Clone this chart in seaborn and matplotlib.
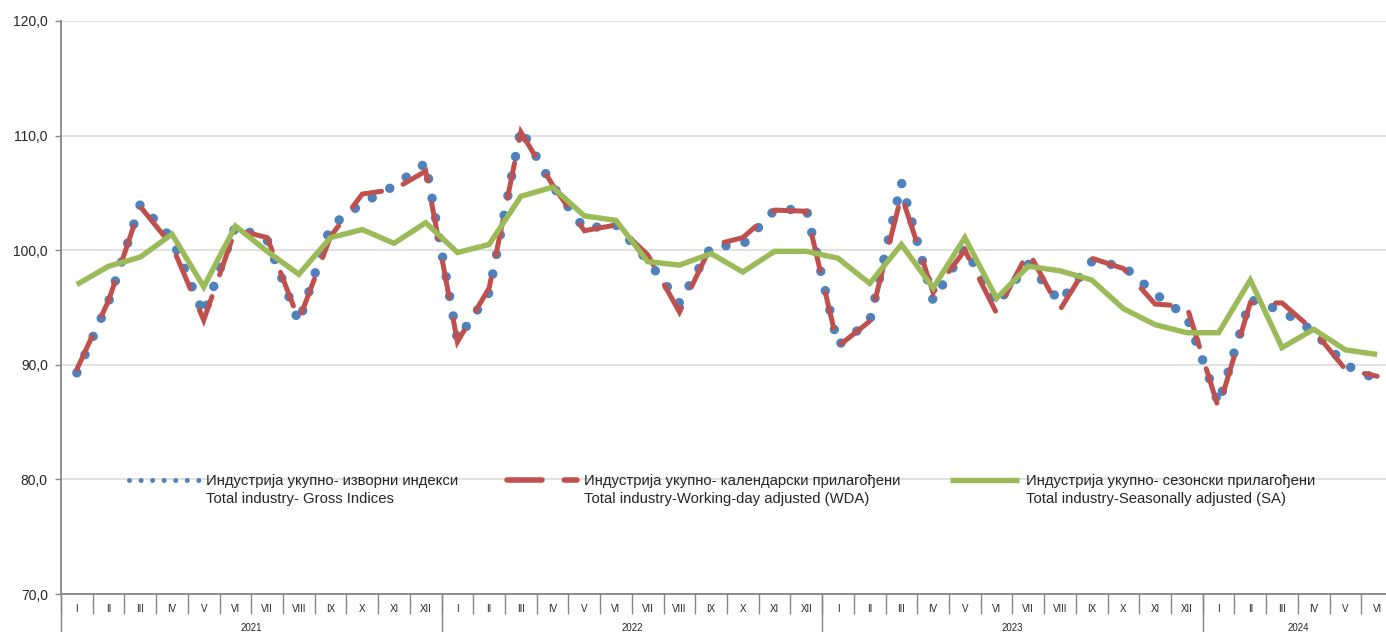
import numpy as np
import pandas as pd
import matplotlib
matplotlib.use("Agg")
import matplotlib.pyplot as plt
import seaborn as sns
from matplotlib.ticker import FuncFormatter, MultipleLocator, FixedLocator

# podaci: indeksi industrijske proizvodnje, 2021 I - 2024 VI
months = ["I", "II", "III", "IV", "V", "VI", "VII", "VIII", "IX", "X", "XI", "XII"]
years = ["2021", "2022", "2023", "2024"]
month_labels = months * 3 + months[:6]

gross = [89.3, 95.5, 104.0, 101.0, 94.4, 102.1, 100.9, 93.7, 102.1, 104.1, 105.6, 107.6,
         92.2, 96.3, 110.6, 105.6, 101.9, 102.2, 99.1, 95.4, 100.3, 100.5, 103.5, 103.6,
         91.7, 93.8, 105.9, 95.6, 100.2, 95.3, 98.8, 95.5, 99.0, 98.6, 96.2, 94.2,
         86.6, 95.7, 94.7, 92.9, 90.0, 88.7]
wda = [89.6, 95.6, 103.8, 100.4, 93.9, 101.8, 101.1, 93.9, 101.2, 104.9, 105.3, 106.9,
       92.0, 96.7, 110.3, 105.7, 101.7, 102.2, 99.6, 94.6, 100.4, 101.1, 103.5, 103.4,
       91.6, 93.8, 104.8, 96.3, 100.0, 94.5, 99.9, 94.8, 99.3, 98.4, 95.3, 95.1,
       86.2, 95.4, 95.4, 93.0, 89.6, 89.0]
sa = [97.0, 98.6, 99.4, 101.4, 96.8, 102.1, 99.9, 97.9, 101.1, 101.8, 100.6, 102.4,
      99.8, 100.5, 104.7, 105.5, 103.0, 102.6, 99.0, 98.7, 99.7, 98.1, 99.9, 99.9,
      99.3, 97.1, 100.5, 96.7, 101.1, 95.8, 98.6, 98.2, 97.4, 94.9, 93.5, 92.8,
      92.8, 97.4, 91.5, 93.1, 91.3, 90.9]

labels = ["Индустрија укупно- изворни индекси\nTotal industry- Gross Indices",
          "Индустрија укупно- календарски прилагођени\nTotal industry-Working-day adjusted (WDA)",
          "Индустрија укупно- сезонски прилагођени\nTotal industry-Seasonally adjusted (SA)"]

df = pd.DataFrame({"idx": np.arange(len(gross)), "gross": gross, "wda": wda, "sa": sa})

sns.set_style("white")
plt.rcParams['font.family'] = ['Liberation Sans', 'DejaVu Sans']

fig = plt.figure(figsize=(13.86, 6.32), dpi=100)
ax = fig.add_axes([61 / 1386, 38 / 632, 1332 / 1386, 573 / 632])

blue, red, green = "#4F81BD", "#C0504D", "#9BBB59"

sns.lineplot(data=df, x="idx", y="gross", ax=ax, color=blue, lw=6.8,
             linestyle=(0, (0.01, 2.1)), dash_capstyle="round")
sns.lineplot(data=df, x="idx", y="wda", ax=ax, color=red, lw=3.6,
             linestyle=(0, (7.2, 4.6)), dash_capstyle="round", dash_joinstyle="miter")
sns.lineplot(data=df, x="idx", y="sa", ax=ax, color=green, lw=3.9,
             solid_joinstyle="miter", solid_capstyle="butt")

ax.set_xlim(-0.5, 41.5)
ax.set_ylim(70, 120)
ax.set_xlabel("")
ax.set_ylabel("")

# y osa
ax.yaxis.set_major_locator(MultipleLocator(10))
ax.yaxis.set_major_formatter(FuncFormatter(lambda v, p: f"{v:.1f}".replace(".", ",")))
ax.grid(axis="y", color="#D9D9D9", lw=1.1)
ax.grid(axis="x", visible=False)
ax.tick_params(axis="y", direction="out", length=4, width=1, color="#868686",
               labelsize=10, pad=5.5, left=True)
for s in ["top", "right"]:
    ax.spines[s].set_visible(False)
for s in ["left", "bottom"]:
    ax.spines[s].set_color("#868686")
    ax.spines[s].set_linewidth(1.3)

# x osa: meseci i godine
ax.xaxis.set_major_locator(FixedLocator(np.arange(len(month_labels))))
ax.set_xticklabels(month_labels)
ax.xaxis.set_minor_locator(FixedLocator(np.arange(-0.5, len(month_labels), 1)))
ax.tick_params(axis="x", which="major", length=0, labelsize=7, pad=7)
ax.tick_params(axis="x", which="minor", direction="out", length=14.5, width=1, color="#868686", bottom=True)

xt = ax.get_xaxis_transform()
ax.vlines([-0.5, 11.5, 23.5, 35.5], -38 / 573, 0, transform=xt, clip_on=False,
          color="#868686", lw=1)
for k, y in enumerate(years):
    start = k * 12
    end = min(start + 12, len(month_labels))
    ax.text((start + end - 1) / 2, -34 / 573, y, transform=xt, ha="center", va="center", fontsize=7)

# legenda
leg = ax.legend(handles=ax.lines[:3], labels=labels, ncol=3, frameon=False,
                loc="upper left", bbox_to_anchor=(0.0513, 0.209),
                handlelength=4.7, handletextpad=0.47, columnspacing=3.3,
                borderpad=0, borderaxespad=0, fontsize=10.7)
for t in leg.get_texts():
    t.set_linespacing(1.3)
leg_style = [(3.6, (0, (0.01, 2.3))), (4.0, (0, (6.3, 4.0))), (3.9, "-")]
for line, (lw, ls) in zip(leg.get_lines(), leg_style):
    line.set_linewidth(lw)
    line.set_linestyle(ls)
    line.set_ydata(np.asarray(line.get_ydata()) + 7.0)

plt.savefig("out.png", dpi=100)
